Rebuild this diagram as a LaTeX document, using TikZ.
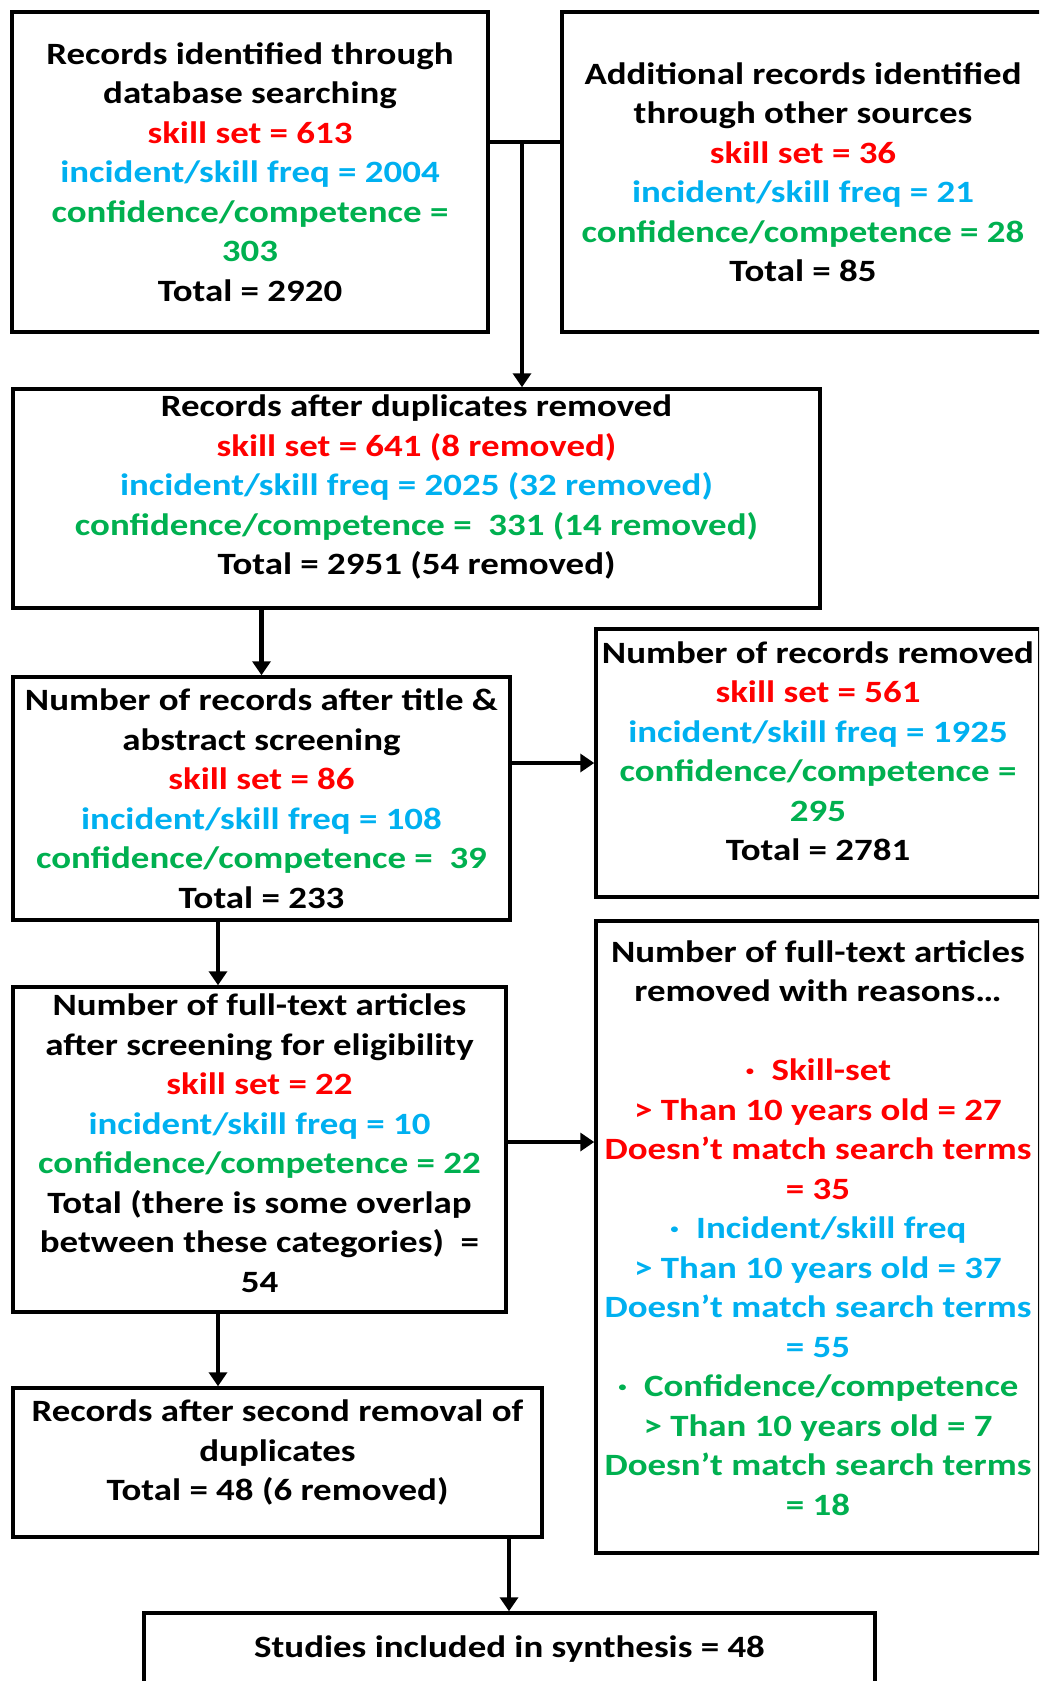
\documentclass[tikz,border=0pt]{standalone}
\usepackage{fontspec}
\setmainfont{Carlito}[FakeStretch=1.19]
\usetikzlibrary{arrows.meta}
\definecolor{skillred}{HTML}{FF0000}
\definecolor{freqblue}{HTML}{00B0F0}
\definecolor{confgreen}{HTML}{00B050}
\newcommand{\skl}[1]{\textcolor{skillred}{#1}}
\newcommand{\frq}[1]{\textcolor{freqblue}{#1}}
\newcommand{\cnf}[1]{\textcolor{confgreen}{#1}}

\begin{document}
\begin{tikzpicture}[x=1pt, y=-1pt,
	box/.style={draw, line width=3.5pt, inner sep=0pt},
	txt/.style={align=center, inner sep=0pt, font=\fontsize{31}{39.5}\selectfont\bfseries},
	arrow/.style={line width=4.5pt, -{Triangle[width=18pt,length=14pt]}}]
	\useasboundingbox (0,0) rectangle (1039,1681);
	\clip (0,0) rectangle (1039,1681);

	%draw the boxes
	\node[box, minimum width=476pt, minimum height=320pt] (identified) at (250,172) {};
	\node[box, minimum width=482pt, minimum height=320pt] (additional) at (803,172) {};
	\node[box, minimum width=807pt, minimum height=219pt] (deduped) at (416.5,498.5) {};
	\node[box, minimum width=497pt, minimum height=243pt] (screened) at (261.5,798.5) {};
	\node[box, minimum width=444pt, minimum height=268pt] (removed) at (818,763) {};
	\node[box, minimum width=493pt, minimum height=325pt] (eligible) at (259.5,1149.5) {};
	\node[box, minimum width=444pt, minimum height=632pt] (excluded) at (818,1237) {};
	\node[box, minimum width=529pt, minimum height=149pt] (dedupagain) at (277.5,1462.5) {};
	\node[box, minimum width=731pt, minimum height=80pt] (included) at (509.5,1653) {};

	%write the counts into the boxes
	\node[txt] (identifiedtxt) at (identified.center) {Records identified through\\ database searching\\
		\skl{skill set = 613}\\ \frq{incident/skill freq = 2004}\\ \cnf{confidence/competence =}\\ \cnf{303}\\ Total = 2920};
	\node[txt] (additionaltxt) at (additional.center) {Additional records identified\\ through other sources\\
		\skl{skill set = 36}\\ \frq{incident/skill freq = 21}\\ \cnf{confidence/competence = 28}\\ Total = 85};
	\node[txt] (dedupedtxt) at ([yshift=11.5pt]deduped.center) {Records after duplicates removed\\
		\skl{skill set = 641 (8 removed)}\\ \frq{incident/skill freq = 2025 (32 removed)}\\
		\cnf{confidence/competence =\ \ 331 (14 removed)}\\ Total = 2951 (54 removed)};
	\node[txt] (screenedtxt) at (screened.center) {Number of records after title \&\\ abstract screening\\
		\skl{skill set = 86}\\ \frq{incident/skill freq = 108}\\ \cnf{confidence/competence =\ \ 39}\\ Total = 233};
	\node[txt] (removedtxt) at ([yshift=12pt]removed.center) {Number of records removed\\
		\skl{skill set = 561}\\ \frq{incident/skill freq = 1925}\\ \cnf{confidence/competence =}\\ \cnf{295}\\ Total = 2781};
	\node[txt] (eligibletxt) at ([yshift=6.5pt]eligible.center) {Number of full-text articles\\ after screening for eligibility\\
		\skl{skill set = 22}\\ \frq{incident/skill freq = 10}\\ \cnf{confidence/competence = 22}\\
		Total (there is some overlap\\ between these categories)\ \ =\\ 54};
	\node[txt] (excludedtxt) at ([yshift=9pt]excluded.center) {Number of full-text articles\\ removed with reasons…\\[39.5pt]
		\skl{·\ \ Skill-set}\\ \skl{> Than 10 years old = 27}\\ \skl{Doesn’t match search terms}\\ \skl{= 35}\\
		\frq{·\ \ Incident/skill freq}\\ \frq{> Than 10 years old = 37}\\ \frq{Doesn’t match search terms}\\ \frq{= 55}\\
		\cnf{·\ \ Confidence/competence}\\ \cnf{> Than 10 years old = 7}\\ \cnf{Doesn’t match search terms}\\ \cnf{= 18}};
	\node[txt] (dedupagaintxt) at ([yshift=10pt]dedupagain.center) {Records after second removal of\\ duplicates\\ Total = 48 (6 removed)};
	\node[txt] (includedtxt) at ([yshift=4pt]included.center) {Studies included in synthesis = 48};

	%connect the boxes
	\coordinate (join) at (522,142);
	\coordinate (leftcol) at (218,0);
	\coordinate (midcol) at (509,0);
	\coordinate (reasons) at ([yshift=7.5pt]eligible.east);
	\draw[line width=4.5pt] (identified.east |- join) -- (additional.west |- join);
	\draw[arrow] (join) -- (deduped.north -| join);
	\draw[arrow] (deduped.south -| screened.north) -- (screened.north);
	\draw[arrow] (screened.east |- removed.west) -- (removed.west);
	\draw[arrow] (screened.south -| leftcol) -- (eligible.north -| leftcol);
	\draw[arrow] (reasons) -- (reasons -| excluded.west);
	\draw[arrow] (eligible.south -| leftcol) -- (dedupagain.north -| leftcol);
	\draw[arrow] (dedupagain.south -| midcol) -- (included.north -| midcol);
\end{tikzpicture}
\end{document}
